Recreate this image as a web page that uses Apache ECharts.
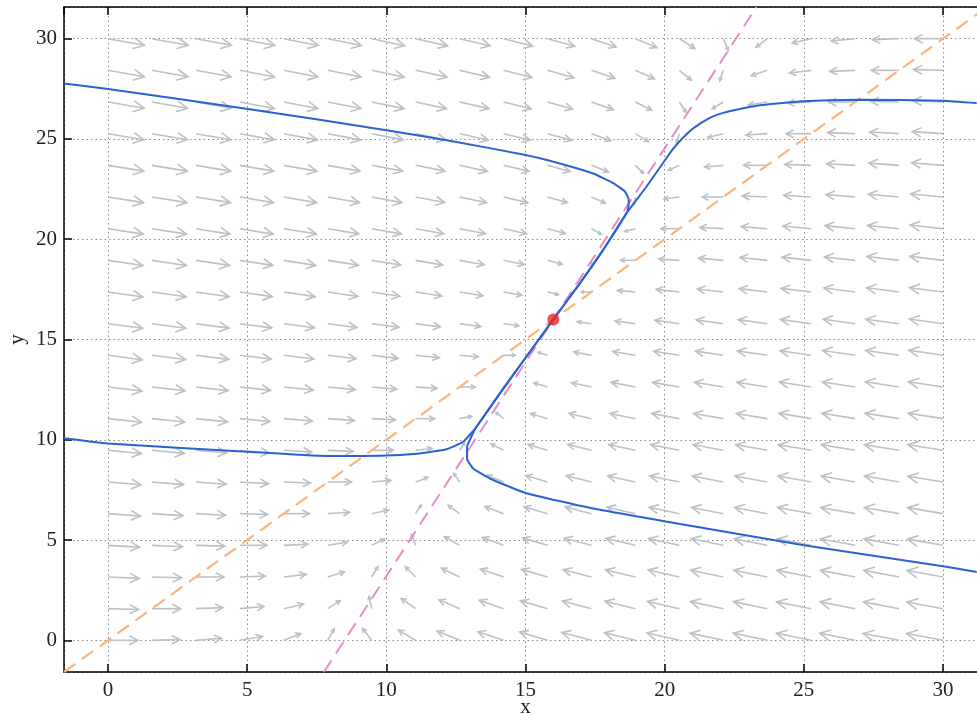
<!DOCTYPE html>
<html>
<head>
<meta charset="utf-8">
<script src="https://cdn.jsdelivr.net/npm/echarts@6/dist/echarts.min.js"></script>
<style>
  html, body { margin: 0; padding: 0; background: #fff; }
  #chart { width: 977px; height: 715px; }
</style>
</head>
<body>
<div id="chart"></div>
<script>
var chart = echarts.init(document.getElementById('chart'));

// quiver grid (arrow tails)
var gridX = [0, 1.579, 3.158, 4.737, 6.316, 7.895, 9.474, 11.053, 12.632, 14.211, 15.789, 17.368, 18.947, 20.526, 22.105, 23.684, 25.263, 26.842, 28.421, 30];
var gridY = [0, 1.579, 3.158, 4.737, 6.316, 7.895, 9.474, 11.053, 12.632, 14.211, 15.789, 17.368, 18.947, 20.526, 22.105, 23.684, 25.263, 26.842, 28.421, 30];

// arrow x-components, one row per gridY value
var uRows = [
  [1.08,1.01,0.93,0.81,0.61,0.23,-0.33,-0.62,-0.81,-0.92,-1.00,-1.06,-1.11,-1.16,-1.19,-1.22,-1.25,-1.27,-1.29,-1.31],
  [1.10,1.04,0.97,0.87,0.71,0.45,-0.10,-0.52,-0.74,-0.87,-0.97,-1.04,-1.09,-1.14,-1.18,-1.21,-1.24,-1.26,-1.28,-1.30],
  [1.12,1.07,1.01,0.92,0.80,0.60,0.22,-0.37,-0.65,-0.83,-0.93,-1.01,-1.07,-1.12,-1.17,-1.20,-1.23,-1.25,-1.27,-1.29],
  [1.14,1.10,1.04,0.97,0.87,0.70,0.45,-0.15,-0.55,-0.76,-0.89,-0.98,-1.05,-1.10,-1.15,-1.18,-1.21,-1.24,-1.26,-1.28],
  [1.17,1.12,1.07,1.00,0.92,0.79,0.60,0.20,-0.41,-0.67,-0.84,-0.94,-1.02,-1.08,-1.13,-1.17,-1.20,-1.23,-1.25,-1.27],
  [1.19,1.14,1.09,1.03,0.96,0.86,0.69,0.44,-0.21,-0.58,-0.78,-0.90,-0.99,-1.06,-1.11,-1.16,-1.19,-1.22,-1.24,-1.26],
  [1.20,1.16,1.11,1.06,1.00,0.91,0.78,0.59,0.18,-0.45,-0.69,-0.85,-0.95,-1.03,-1.08,-1.13,-1.18,-1.21,-1.24,-1.26],
  [1.21,1.18,1.14,1.09,1.03,0.96,0.86,0.68,0.44,-0.27,-0.61,-0.80,-0.91,-0.99,-1.06,-1.11,-1.16,-1.19,-1.22,-1.25],
  [1.22,1.19,1.16,1.11,1.06,0.99,0.90,0.77,0.57,0.18,-0.49,-0.71,-0.87,-0.96,-1.03,-1.09,-1.14,-1.18,-1.21,-1.24],
  [1.23,1.21,1.18,1.13,1.08,1.02,0.95,0.85,0.67,0.42,-0.33,-0.63,-0.81,-0.92,-1.00,-1.07,-1.12,-1.17,-1.20,-1.23],
  [1.25,1.22,1.19,1.15,1.10,1.05,0.98,0.89,0.76,0.55,0.21,-0.51,-0.73,-0.88,-0.97,-1.04,-1.10,-1.15,-1.19,-1.21],
  [1.26,1.23,1.20,1.17,1.13,1.08,1.01,0.94,0.84,0.66,0.39,-0.36,-0.64,-0.83,-0.93,-1.01,-1.08,-1.12,-1.17,-1.20],
  [1.26,1.24,1.21,1.19,1.15,1.10,1.04,0.97,0.88,0.74,0.53,0.02,-0.53,-0.74,-0.89,-0.98,-1.05,-1.10,-1.15,-1.19],
  [1.27,1.25,1.23,1.20,1.17,1.12,1.07,1.01,0.93,0.83,0.64,0.35,-0.38,-0.66,-0.84,-0.94,-1.02,-1.08,-1.13,-1.18],
  [1.28,1.26,1.24,1.21,1.18,1.14,1.09,1.04,0.97,0.87,0.72,0.50,-0.06,-0.55,-0.76,-0.90,-0.99,-1.05,-1.11,-1.16],
  [1.29,1.27,1.25,1.22,1.19,1.16,1.11,1.06,1.00,0.92,0.81,0.61,0.29,-0.39,-0.67,-0.85,-0.95,-1.02,-1.09,-1.13],
  [1.29,1.28,1.26,1.24,1.21,1.18,1.14,1.09,1.03,0.96,0.86,0.70,0.47,-0.10,-0.56,-0.77,-0.90,-0.99,-1.06,-1.11],
  [1.30,1.28,1.26,1.24,1.22,1.19,1.16,1.11,1.06,0.99,0.90,0.79,0.59,0.24,-0.40,-0.68,-0.85,-0.96,-1.03,-1.09],
  [1.31,1.29,1.27,1.25,1.23,1.20,1.17,1.13,1.08,1.02,0.95,0.84,0.68,0.43,-0.13,-0.57,-0.78,-0.91,-1.00,-1.06],
  [1.31,1.30,1.28,1.26,1.24,1.21,1.18,1.15,1.10,1.05,0.98,0.89,0.77,0.56,0.18,-0.40,-0.68,-0.86,-0.96,-1.03]
];

// arrow y-components
var vRows = [
  [0,0.04,0.10,0.19,0.33,0.57,0.60,0.51,0.46,0.43,0.41,0.39,0.38,0.37,0.36,0.36,0.35,0.35,0.34,0.34],
  [-0.04,0,0.05,0.11,0.22,0.40,0.61,0.51,0.45,0.42,0.39,0.38,0.37,0.36,0.35,0.35,0.34,0.34,0.34,0.33],
  [-0.07,-0.04,0,0.05,0.13,0.26,0.51,0.51,0.44,0.40,0.38,0.36,0.35,0.35,0.34,0.34,0.33,0.33,0.33,0.32],
  [-0.09,-0.07,-0.04,0,0.06,0.15,0.32,0.53,0.43,0.39,0.36,0.35,0.34,0.33,0.33,0.32,0.32,0.32,0.32,0.31],
  [-0.12,-0.10,-0.08,-0.04,0,0.07,0.18,0.43,0.42,0.36,0.35,0.33,0.32,0.32,0.31,0.31,0.31,0.31,0.31,0.30],
  [-0.14,-0.13,-0.11,-0.08,-0.05,0,0.08,0.23,0.43,0.34,0.32,0.31,0.30,0.30,0.30,0.30,0.30,0.30,0.30,0.29],
  [-0.16,-0.15,-0.13,-0.12,-0.09,-0.05,0,0.09,0.35,0.32,0.29,0.29,0.28,0.28,0.28,0.28,0.28,0.28,0.28,0.28],
  [-0.18,-0.17,-0.16,-0.14,-0.12,-0.10,-0.06,0,0.12,0.31,0.26,0.26,0.26,0.26,0.26,0.26,0.27,0.27,0.27,0.27],
  [-0.20,-0.19,-0.18,-0.17,-0.15,-0.13,-0.11,-0.07,0,0.25,0.21,0.21,0.23,0.23,0.24,0.24,0.25,0.25,0.26,0.26],
  [-0.22,-0.21,-0.20,-0.19,-0.18,-0.17,-0.15,-0.12,-0.08,0,0.15,0.17,0.19,0.20,0.21,0.22,0.23,0.24,0.24,0.25],
  [-0.23,-0.23,-0.22,-0.21,-0.20,-0.19,-0.18,-0.16,-0.14,-0.10,0,0.10,0.14,0.17,0.19,0.20,0.21,0.22,0.22,0.23],
  [-0.25,-0.24,-0.24,-0.23,-0.23,-0.22,-0.21,-0.20,-0.19,-0.16,-0.13,0,0.08,0.13,0.15,0.17,0.18,0.20,0.21,0.21],
  [-0.26,-0.26,-0.25,-0.25,-0.25,-0.24,-0.23,-0.23,-0.22,-0.21,-0.20,-0.32,0,0.07,0.11,0.14,0.16,0.17,0.19,0.20],
  [-0.27,-0.27,-0.27,-0.27,-0.26,-0.26,-0.26,-0.25,-0.25,-0.25,-0.24,-0.27,-0.14,0,0.06,0.10,0.13,0.15,0.16,0.18],
  [-0.28,-0.28,-0.28,-0.28,-0.28,-0.28,-0.28,-0.27,-0.28,-0.28,-0.28,-0.30,-0.39,-0.10,0,0.05,0.09,0.12,0.14,0.15],
  [-0.29,-0.29,-0.29,-0.29,-0.29,-0.29,-0.29,-0.29,-0.30,-0.30,-0.31,-0.33,-0.40,-0.25,-0.08,0,0.05,0.08,0.11,0.13],
  [-0.30,-0.30,-0.30,-0.30,-0.31,-0.31,-0.31,-0.31,-0.32,-0.32,-0.33,-0.35,-0.40,-0.46,-0.19,-0.07,0,0.05,0.08,0.10],
  [-0.31,-0.31,-0.31,-0.32,-0.32,-0.32,-0.33,-0.33,-0.33,-0.34,-0.35,-0.38,-0.41,-0.51,-0.34,-0.15,-0.06,0,0.04,0.07],
  [-0.32,-0.32,-0.32,-0.33,-0.33,-0.33,-0.34,-0.34,-0.35,-0.36,-0.37,-0.39,-0.42,-0.49,-0.54,-0.27,-0.13,-0.05,0,0.04],
  [-0.33,-0.33,-0.33,-0.34,-0.34,-0.34,-0.35,-0.36,-0.36,-0.37,-0.38,-0.41,-0.44,-0.49,-0.59,-0.42,-0.22,-0.12,-0.05,0]
];

// nullclines (end points)
var pinkX = [7.76, 23.30];
var pinkY = [-1.579, 31.579];
var orangeX = [-1.579, 31.579];
var orangeY = [-1.579, 31.579];

// trajectories
var trajAx = [-1.58, 0, 4.97, 10.12, 12.52, 15.0, 16.23, 17.43, 18.15, 18.57, 18.71, 18.69, 18.63, 17.79, 16.9, 16.0];
var trajAy = [27.76, 27.49, 26.51, 25.41, 24.85, 24.20, 23.78, 23.28, 22.80, 22.38, 21.97, 21.55, 21.30, 19.47, 17.7, 16.0];
var trajBx = [31.21, 30.0, 26.89, 24.97, 23.30, 22.10, 21.62, 21.05, 20.65, 20.30, 19.94, 19.35, 18.63, 17.79, 16.9, 16.0];
var trajBy = [26.79, 26.91, 26.96, 26.88, 26.66, 26.30, 26.05, 25.55, 25.05, 24.50, 23.80, 22.63, 21.30, 19.47, 17.7, 16.0];
var trajCx = [-1.58, 0, 4.98, 7.85, 9.76, 11.2, 12.16, 12.76, 13.24, 14.1, 15.03, 16.0];
var trajCy = [10.08, 9.82, 9.40, 9.19, 9.20, 9.32, 9.53, 9.90, 10.65, 12.35, 14.14, 16.0];
var trajDx = [31.21, 30.0, 25.0, 19.98, 17.43, 15.0, 13.72, 13.12, 12.90, 12.90, 13.0, 13.12, 13.24, 14.1, 15.03, 16.0];
var trajDy = [3.41, 3.69, 4.74, 5.94, 6.57, 7.35, 8.07, 8.57, 9.07, 9.65, 9.99, 10.35, 10.65, 12.35, 14.14, 16.0];

var fixedPoint = [16, 16];

function pairs(xs, ys) {
    var out = [];
    for (var i = 0; i < xs.length; i++) out.push([xs[i], ys[i]]);
    return out;
}

var quiverData = [];
for (var i = 0; i < gridY.length; i++) {
    for (var j = 0; j < gridX.length; j++) {
        quiverData.push([gridX[j], gridY[i], uRows[i][j], vRows[i][j]]);
    }
}

var arrowColor = '#bac2c8';
function renderArrow(params, api) {
    var p0 = api.coord([api.value(0), api.value(1)]);
    var p1 = api.coord([api.value(0) + api.value(2), api.value(1) + api.value(3)]);
    var dx = p1[0] - p0[0], dy = p1[1] - p0[1];
    var len = Math.sqrt(dx * dx + dy * dy);
    if (len < 0.5) return;
    var ang = Math.atan2(dy, dx);
    var h = len * 0.33, a = 0.47;
    var w1 = [p1[0] - h * Math.cos(ang - a), p1[1] - h * Math.sin(ang - a)];
    var w2 = [p1[0] - h * Math.cos(ang + a), p1[1] - h * Math.sin(ang + a)];
    return {
        type: 'group',
        children: [
            { type: 'line', shape: { x1: p0[0], y1: p0[1], x2: p1[0], y2: p1[1] },
              style: { stroke: arrowColor, lineWidth: 1.6 } },
            { type: 'polyline', shape: { points: [w1, p1, w2] },
              style: { stroke: arrowColor, fill: null, lineWidth: 1.6 } }
        ]
    };
}

var serif = 'Liberation Serif';
var blue = '#2b62cf';
function traj(xs, ys) {
    return {
        type: 'line', data: pairs(xs, ys), showSymbol: false, smooth: 0.15,
        lineStyle: { color: blue, width: 2 }, z: 5, silent: true
    };
}

option = {
    animation: false,
    backgroundColor: '#fff',
    grid: { left: 64, top: 7, width: 923, height: 665, outerBoundsMode: 'none' },
    xAxis: [
        {
            type: 'value', min: -1.579, max: 31.579,
            name: 'x', nameLocation: 'middle', nameGap: 25, nameMoveOverlap: false,
            nameTextStyle: { fontFamily: serif, fontSize: 21, color: '#222' },
            axisLine: { onZero: false, lineStyle: { color: '#000', width: 1.5 } },
            axisTick: { inside: true, length: 8, lineStyle: { color: '#000', width: 1.5 } },
            axisLabel: { margin: 8, fontFamily: serif, fontSize: 21, color: '#222',
                         showMinLabel: false, showMaxLabel: false },
            splitLine: { show: true, lineStyle: { color: '#8a8a8a', width: 1, type: [1.5, 3] } }
        },
        {
            type: 'value', position: 'top', min: -1.579, max: 31.579,
            axisLine: { onZero: false, lineStyle: { color: '#000', width: 1.5 } },
            axisTick: { inside: true, length: 8, lineStyle: { color: '#000', width: 1.5 } },
            axisLabel: { show: false },
            splitLine: { show: false }
        }
    ],
    yAxis: {
        type: 'value', min: -1.579, max: 31.579,
        name: 'y', nameLocation: 'middle', nameGap: 36, nameMoveOverlap: false,
        nameTextStyle: { fontFamily: serif, fontSize: 21, color: '#222' },
        axisLine: { onZero: false, lineStyle: { color: '#000', width: 1.5 } },
        axisTick: { inside: true, length: 8, lineStyle: { color: '#000', width: 1.5 } },
        axisLabel: { margin: 7, fontFamily: serif, fontSize: 21, color: '#222',
                     showMinLabel: false, showMaxLabel: false },
        splitLine: { show: true, lineStyle: { color: '#8a8a8a', width: 1, type: [1.5, 3] } }
    },
    series: [
        {
            type: 'custom', renderItem: renderArrow, data: quiverData,
            encode: { x: 0, y: 1 }, z: 2, silent: true, clip: true
        },
        {
            type: 'line', data: pairs(orangeX, orangeY), showSymbol: false, z: 3, silent: true,
            lineStyle: { color: '#ffb37a', width: 2.2, type: [14, 8] }
        },
        {
            type: 'line', data: pairs(pinkX, pinkY), showSymbol: false, z: 3, silent: true,
            lineStyle: { color: '#e58cc9', width: 2, type: [14, 8] }
        },
        traj(trajAx, trajAy),
        traj(trajBx, trajBy),
        traj(trajCx, trajCy),
        traj(trajDx, trajDy),
        {
            type: 'scatter', data: [fixedPoint], symbolSize: 12, z: 8, silent: true,
            itemStyle: { color: '#e8261f' }
        }
    ]
};
chart.setOption(option);
</script>
</body>
</html>
